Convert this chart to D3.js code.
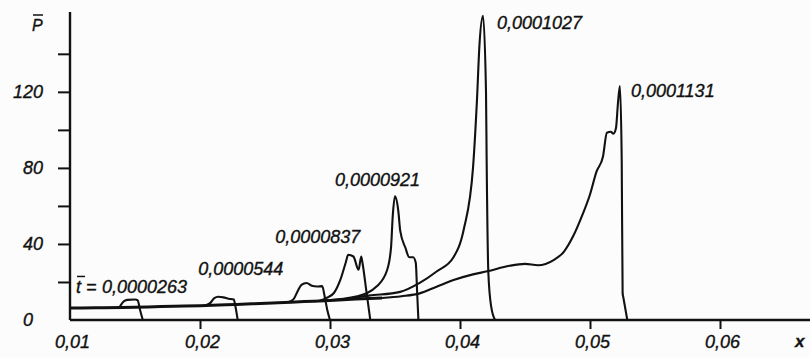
<!DOCTYPE html>
<html>
<head>
<meta charset="utf-8">
<script src="https://cdn.jsdelivr.net/npm/d3@7"></script>
<style>
    body { margin: 0; background: #fcfcfc; }
    svg { display: block; }
    text { font-family: "Liberation Sans", Arial, sans-serif; font-style: italic; fill: #111; stroke: #111; stroke-width: 0.35px; }
</style>
</head>
<body>
<div id="chart"></div>
<script>
'use strict';

// axis ticks
const xTicks = [0.01, 0.02, 0.03, 0.04, 0.05, 0.06];
const xTickLabels = ['0,01', '0,02', '0,03', '0,04', '0,05', '0,06'];
const yTicks = [0, 20, 40, 60, 80, 100, 120, 140];
const yTickLabels = ['0', '', '40', '', '80', '', '120', ''];

// dimensionless time of each pressure profile
const timeLabels = ['0,0000263', '0,0000544', '0,0000837', '0,0000921', '0,0001027', '0,0001131'];

// common lower part shared by all profiles  [x, P]
const baseline = [[0.0100, 6.3], [0.0120, 6.4], [0.0140, 6.6], [0.0160, 6.9], [0.0180, 7.2], [0.0200, 7.5],
    [0.0220, 8.0], [0.0240, 8.5], [0.0260, 9.1], [0.0280, 9.7], [0.0300, 10.3], [0.0320, 11.0], [0.0340, 11.6]];

const profile0263 = [[0.0138, 6.6], [0.0141, 9.6], [0.0144, 10.6], [0.0150, 10.8], [0.0152, 10.4], [0.0154, 5.0], [0.0156, 0]];
const profile0544 = [[0.0204, 7.6], [0.0208, 9.0], [0.0211, 11.5], [0.0214, 12.2], [0.0218, 11.9], [0.0222, 11.2],
    [0.0226, 10.8], [0.0227, 8.0], [0.0229, 0]];
// unlabelled profile between 0,0000544 and 0,0000837
const profileMid = [[0.0268, 9.4], [0.0272, 11.0], [0.0275, 15.0], [0.0278, 18.5], [0.0282, 19.5], [0.0286, 18.0],
    [0.0290, 17.6], [0.0294, 17.8], [0.0296, 12.0], [0.0298, 5.0], [0.0300, 0]];
const profile0837 = [[0.0292, 10.1], [0.0297, 11.5], [0.0303, 14.2], [0.0308, 21.2], [0.0312, 30.0], [0.0314, 34.3],
    [0.0318, 33.4], [0.0322, 26.4], [0.0324, 33.4], [0.0325, 30.0], [0.0328, 15.0], [0.0331, 0]];
const profile0921 = [[0.0295, 10.2], [0.0321, 12.5], [0.0336, 17.7], [0.0344, 26.4], [0.0347, 38.6], [0.03482, 54],
    [0.0350, 65], [0.03526, 57], [0.0354, 47], [0.0358, 38], [0.0361, 33], [0.0364, 33], [0.0366, 30], [0.0367, 15], [0.0368, 0]];
const profile1027 = [[0.0312, 11.0], [0.0330, 12.8], [0.0354, 14.8], [0.0369, 19.5], [0.0382, 25.5], [0.0395, 33],
    [0.0403, 48], [0.0410, 80], [0.0413, 115], [0.0415, 145], [0.04177, 160], [0.0420, 120], [0.04205, 84],
    [0.04218, 25], [0.0424, 7], [0.0427, 0]];
const profile1131 = [[0.0340, 11.6], [0.0355, 12.5], [0.0369, 14.0], [0.0382, 17.5], [0.0395, 21.0], [0.0410, 24.0],
    [0.0421, 25.6], [0.0438, 28.5], [0.0450, 29.5], [0.0460, 28.8], [0.0472, 31.5], [0.0480, 36.0], [0.0487, 44.0],
    [0.0494, 55.0], [0.0500, 66.0], [0.0505, 78.0], [0.0510, 86.0], [0.0513, 98.5], [0.0516, 99.0], [0.0518, 98.0],
    [0.0520, 101.0], [0.05215, 114.0], [0.0523, 123.0], [0.05244, 84.0], [0.05251, 14.0], [0.05256, 12.0], [0.05287, 0]];

const labelledProfiles = [profile0263, profile0544, profile0837, profile0921, profile1027, profile1131];

// layout
const width = 810, height = 358;
const labelOffsets = [[-33, -6], [-20, -22], [-73, -12], [-60, -10], [14, 13], [11, 11]]; // from each profile peak

function main() {
    let svg = d3.select('#chart')
        .append('svg')
        .attr('width', width)
        .attr('height', height);

    let x = d3.scaleLinear().domain([0.01, 0.06]).range([70, 720]);
    let y = d3.scaleLinear().domain([0, 162]).range([320, 12]);

    // x axis, line runs to the right border
    let xAxis = svg.append('g')
        .attr('transform', `translate(0, ${y(0)})`)
        .call(d3.axisBottom(x)
            .tickValues(xTicks)
            .tickFormat((d, i) => xTickLabels[i])
            .tickSizeInner(9)
            .tickSizeOuter(0)
            .tickPadding(6));
    xAxis.select('.domain').remove();
    xAxis.append('line')
        .attr('x1', x(0.01)).attr('x2', width)
        .attr('stroke', '#111').attr('stroke-width', 2.4);
    xAxis.selectAll('.tick line').attr('stroke', '#111').attr('stroke-width', 2)
        .filter(d => d === 0.01).remove();
    xAxis.selectAll('.tick text')
        .attr('font-size', 18).attr('fill', '#111').attr('dx', 2);

    // y axis
    let yAxis = svg.append('g')
        .attr('transform', `translate(${x(0.01)}, 0)`)
        .call(d3.axisLeft(y)
            .tickValues(yTicks)
            .tickFormat((d, i) => yTickLabels[i])
            .tickSizeInner(12)
            .tickSizeOuter(0)
            .tickPadding(15));
    yAxis.select('.domain').remove();
    yAxis.append('line')
        .attr('y1', 12).attr('y2', y(0))
        .attr('stroke', '#111').attr('stroke-width', 2.4);
    yAxis.selectAll('.tick line').attr('stroke', '#111').attr('stroke-width', 2)
        .filter(d => d === 0).remove();
    yAxis.selectAll('.tick text')
        .attr('font-size', 18).attr('fill', '#111')
        .filter(d => d === 0).attr('x', -37);

    // axis names
    svg.append('text')
        .attr('x', 32).attr('y', 31)
        .attr('font-size', 16)
        .text('P');
    svg.append('line')
        .attr('x1', 33).attr('x2', 43).attr('y1', 15).attr('y2', 15)
        .attr('stroke', '#111').attr('stroke-width', 1.5);
    svg.append('text')
        .attr('x', 795).attr('y', 347)
        .attr('font-size', 17).attr('font-weight', 'bold')
        .text('x');

    // profiles
    let line = d3.line()
        .x(d => x(d[0]))
        .y(d => y(d[1]))
        .curve(d3.curveMonotoneX);

    svg.append('path')
        .datum(baseline)
        .attr('d', line)
        .attr('fill', 'none')
        .attr('stroke', '#111')
        .attr('stroke-width', 3);

    svg.selectAll('.profile')
        .data([profile0263, profile0544, profileMid, profile0837, profile0921, profile1027, profile1131])
        .enter()
        .append('path')
        .classed('profile', true)
        .attr('d', line)
        .attr('fill', 'none')
        .attr('stroke', '#111')
        .attr('stroke-width', 2.1)
        .attr('stroke-linejoin', 'round');

    // time labels placed near each profile peak
    labelledProfiles.forEach((p, i) => {
        let peak = p.reduce((a, b) => (b[1] > a[1] ? b : a));
        svg.append('text')
            .attr('x', x(peak[0]) + labelOffsets[i][0])
            .attr('y', y(peak[1]) + labelOffsets[i][1])
            .attr('font-size', 18)
            .text(timeLabels[i]);
    });

    // "t = " prefix of the first label, with the bar over t
    let first = labelledProfiles[0].reduce((a, b) => (b[1] > a[1] ? b : a));
    let tx = x(first[0]) + labelOffsets[0][0] - 26;
    let ty = y(first[1]) + labelOffsets[0][1];
    svg.append('text')
        .attr('x', tx).attr('y', ty)
        .attr('font-size', 18)
        .text('t =');
    svg.append('line')
        .attr('x1', tx + 1).attr('x2', tx + 9).attr('y1', ty - 17).attr('y2', ty - 17)
        .attr('stroke', '#111').attr('stroke-width', 1.5);
}

main();
</script>
</body>
</html>
